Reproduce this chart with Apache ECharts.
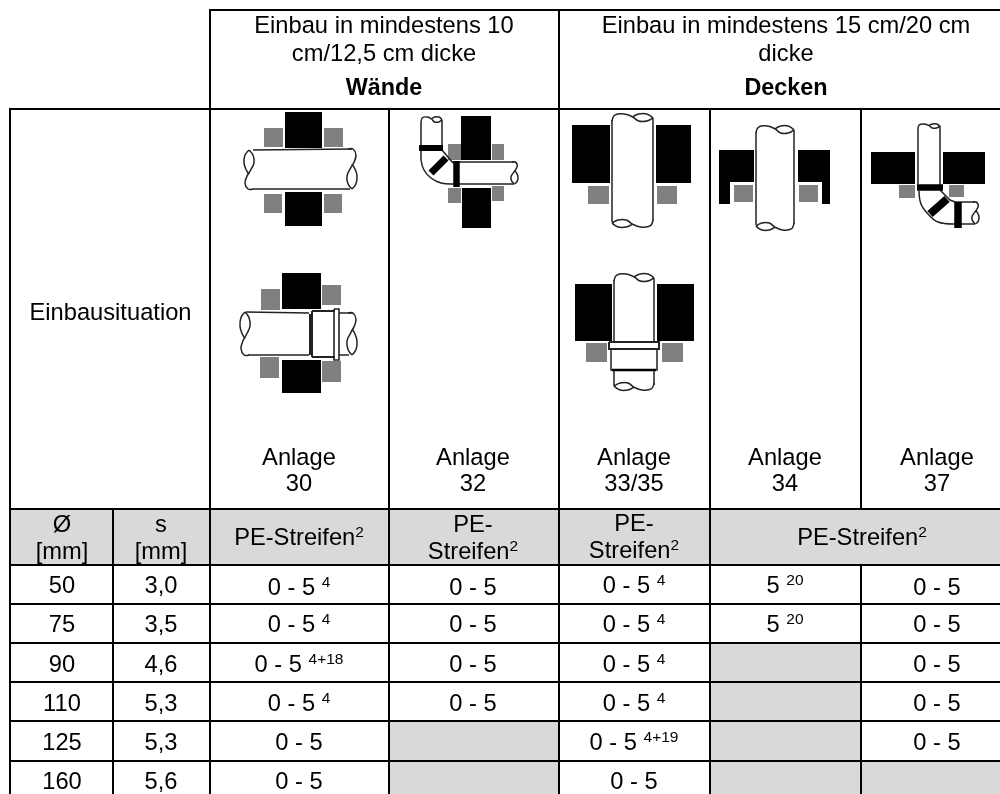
<!DOCTYPE html>
<html><head><meta charset="utf-8">
<style>html,body{margin:0;padding:0;background:#fff}#c{width:1000px;height:794px}</style>
<script src="https://cdn.jsdelivr.net/npm/echarts@6/dist/echarts.min.js"></script>
</head><body><div id="c"></div>
<script>
// ---------- table content ----------
const diameters = ['50','75','90','110','125','160'];
const walls = ['3,0','3,5','4,6','5,3','5,3','5,6'];
const anlage30 = [['0 - 5','4'],['0 - 5','4'],['0 - 5','4+18'],['0 - 5','4'],['0 - 5',''],['0 - 5','']];
const anlage32 = [['0 - 5',''],['0 - 5',''],['0 - 5',''],['0 - 5',''],null,null];
const anlage33 = [['0 - 5','4'],['0 - 5','4'],['0 - 5','4'],['0 - 5','4'],['0 - 5','4+19'],['0 - 5','']];
const anlage34 = [['5','20'],['5','20'],null,null,null,null];
const anlage37 = [['0 - 5',''],['0 - 5',''],['0 - 5',''],['0 - 5',''],['0 - 5',''],null];
const anlageLabels = ['30','32','33/35','34','37'];

// ---------- layout (axis units equal page pixels) ----------
const FONT = '"Liberation Sans", Arial, sans-serif';
const colX = [10,113,210,389,559,710,861,1000];
const rowY = [565,604,643,682,721,761,794];
const tableValueCols = [[anlage30,299],[anlage32,473],[anlage33,634],[anlage34,785],[anlage37,937]];
const valueRowY = [[587,624,664,703,742,781],[587,624,664,703,742,781],[585,624,664,703,742,781],[585,624,664,703,742,781],[587,624,664,703,742,781]];
const anlageX = [299,473,634,785,937];
const GREY = '#d9d9d9', MID = '#808080', BLACK = '#000000', PIPE = '#222222';

// [x0,y0,x1,y1,colour]
const fills = [];
tableValueCols.forEach((c,ci)=>c[0].forEach((v,ri)=>{ if(!v) fills.push([colX[ci+2],rowY[ri],colX[ci+3],rowY[ri+1],GREY]); }));
fills.push([10,509,1000,565,GREY]);
const blocks = [
 // Anlage 30 top
 [285,112,322,148,BLACK],[285,192,322,226,BLACK],[264,128,283,147,MID],[324,128,343,147,MID],[264,194,282,213,MID],[324,194,342,213,MID],
 // Anlage 30 bottom
 [282,273,321,309,BLACK],[282,360,321,393,BLACK],[261,289,280,310,MID],[322,285,341,305,MID],[260,357,279,378,MID],[322,361,341,382,MID],
 // Anlage 32
 [461,116,491,160,BLACK],[462,188,491,228,BLACK],[448,144,461,160,MID],[492,144,504,160,MID],[448,188,461,203,MID],[492,186,504,201,MID],
 // Anlage 33
 [572,125,610,183,BLACK],[656,125,691,183,BLACK],[588,186,609,204,MID],[657,186,677,204,MID],
 // Anlage 35
 [575,284,612,341,BLACK],[657,284,694,341,BLACK],[586,343,607,362,MID],[662,343,683,362,MID],
 // Anlage 34
 [719,150,754,182,BLACK],[719,182,730,204,BLACK],[798,150,830,182,BLACK],[822,182,830,204,BLACK],[734,185,753,202,MID],[799,185,818,202,MID],
 // Anlage 37
 [871,152,915,184,BLACK],[943,152,985,184,BLACK],[899,185,915,198,MID],[949,185,964,197,MID]
];

// [x1,y1,x2,y2] grid rules
const rules = [
 [210,10,1000,10],[10,109,1000,109],[10,509,1000,509],[10,565,1000,565],
 [10,604,1000,604],[10,643,1000,643],[10,682,1000,682],[10,721,1000,721],[10,761,1000,761],
 [10,108,10,794],[113,509,113,794],[210,9,210,794],[389,109,389,794],[559,9,559,794],[710,109,710,794],[861,109,861,509],[861,565,861,794]
];

// wavy pipe ends, sketched as outlines
function hLeft(x,y0,y1,l){ const h=y1-y0; l=l||10; return [
  [[x+l/2,y0],[x+l*.1,y0+.13*h],[x,y0+.33*h],[x+l*.2,y0+.5*h],[x+l/2,y0+.62*h]],
  [[x+l/2,y0],[x+l*.9,y0+.13*h],[x+l,y0+.33*h],[x+l*.6,y0+.54*h],[x+l*.3,y0+.67*h],[x+l*.1,y0+.85*h],[x+l*.4,y1],[x+l*.9,y1]]
];}
function hRight(x,y0,y1,l){ l=l||10; return hLeft(0,y0,y1,l).map(s=>s.map(p=>[x-p[0],y0+y1-p[1]])); }
function vTop(y,x0,x1,a){ const w=x1-x0; a=a||7; return [
  [[x0,y+a],[x0+.07*w,y+a*.15],[x0+.3*w,y],[x0+.5*w,y+a*.4],[x0+.65*w,y+a],[x0+.85*w,y+a],[x1,y+a*.55]],
  [[x0+.5*w,y+a*.4],[x0+.65*w,y],[x0+.85*w,y],[x1,y+a*.55]]
];}
function vBottom(y,x0,x1,a){ return vTop(0,x0,x1,a).map(s=>s.map(p=>[x0+x1-p[0],y-p[1]])); }
const W = 1.5;
const thin = pts => ({pts, w:W, color:PIPE, smooth:0.4});
const line = (pts,w) => ({pts, w:w||W, color:PIPE, smooth:0});
const band = (pts,w) => ({pts, w, color:BLACK, smooth:0});
const strokes = [
 // Anlage 30 top
 line([[253,150],[352,149]]),line([[253,189],[350,189]]),
 ...hLeft(244,150,189).map(thin),...hRight(357,149,189).map(thin),
 // Anlage 30 bottom
 line([[246,312],[309,313]]),line([[248,355],[309,355]]),
 ...hLeft(240,312,355).map(thin),
 line([[310,314],[310,355]],2),line([[312,311],[335,311]],2),line([[312,357],[335,357]],2),line([[312,311],[312,357]],2),
 line([[334,309],[339,309],[339,360],[334,360],[334,309]],1.6),
 line([[339,313],[353,313]]),line([[339,355],[349,355]]),...hRight(357,313,355).map(thin),
 // Anlage 32
 line([[421,122],[421,160]]),line([[442,120],[442,148]]),...vTop(117,421,442,5).map(thin),
 thin([[421,160],[424,170],[431,178],[441,183],[453,184]]),
 line([[442,150],[453,163]]),
 line([[453,162],[514,162]]),line([[453,184],[514,184]]),
 ...hRight(518,162,184,7).map(thin),
 band([[419,148],[443,148]],6),band([[431,173],[446,158]],7),band([[456.5,161],[456.5,187]],6.5),
 // Anlage 33
 line([[612,120],[612,222]]),line([[653,118],[653,221]]),
 ...vTop(114,612,653).map(thin),...vBottom(227,612,653).map(thin),
 // Anlage 34
 line([[756,132],[756,225]]),line([[794,130],[794,224]]),
 ...vTop(126,756,794).map(thin),...vBottom(230,756,794).map(thin),
 // Anlage 37
 line([[918,128],[918,190]]),line([[940,126],[940,186]]),...vTop(124,918,940,4).map(thin),
 thin([[919,191],[921,204],[928,214],[938,222],[955,224]]),
 line([[940,190],[950,200],[955,202]]),
 line([[955,202],[975,202]]),line([[955,224],[975,224]]),
 ...hRight(979,202,224,7).map(thin),
 band([[917,187.5],[943,187.5]],6.5),band([[930,214],[947,199]],8),band([[958,202],[958,228]],7.5),
 // Anlage 35
 line([[614,280],[614,342]]),line([[654,278],[654,342]]),...vTop(274,614,654).map(thin),
 line([[609,342],[659,342],[659,349],[609,349],[609,342]],2),
 line([[611,349],[611,370],[657,370],[657,349]],1.5),band([[612,370],[656,370]],2.5),
 line([[614,371],[614,386]]),line([[654,371],[654,385]]),...vBottom(390,614,654).map(thin)
];

// ---------- texts: [x,y,text,size,bold] ----------
const N = 23.7, B = 23.4;
const texts = [
 [384,26,'Einbau in mindestens 10',N],[384,54,'cm/12,5 cm dicke',N],[384,89,'Wände',B,true],
 [786,26,'Einbau in mindestens 15 cm/20 cm',N],[786,54,'dicke',N],[786,89,'Decken',B,true],
 [110.5,313,'Einbausituation',N],
 [62,525,'Ø',N],[62,552,'[mm]',N],[161,525,'s',N],[161,552,'[mm]',N],
 [473,525,'PE-',N],[634,524,'PE-',N]
];
anlageLabels.forEach((a,i)=>{texts.push([anlageX[i],458,'Anlage',N]);texts.push([anlageX[i],484,a,N]);});
const supTexts = [
 [299,538,'PE-Streifen','2'],[473,552,'Streifen','2'],[634,551,'Streifen','2'],[862,538,'PE-Streifen','2']
];
diameters.forEach((d,i)=>{texts.push([62,valueRowY[2][i]+1,d,N]);texts.push([161,valueRowY[2][i]+1,walls[i],N]);});
tableValueCols.forEach((c,ci)=>c[0].forEach((v,ri)=>{ if(v) supTexts.push([c[1],valueRowY[ci][ri]+1,v[0],v[1]]); }));

const chart = echarts.init(document.getElementById('c'),null,{renderer:'canvas'});
const rectColors = {fills:fills.map(r=>r[4]),blocks:blocks.map(r=>r[4])};
const rectItem = (p,api)=>{
  const a=api.coord([api.value(0),api.value(1)]), b=api.coord([api.value(2),api.value(3)]);
  return {type:'rect',shape:{x:a[0],y:a[1],width:b[0]-a[0],height:b[1]-a[1]},style:{fill:rectColors[p.seriesName][p.dataIndex]}};
};
const base = {type:'custom',silent:true,clip:false,animation:false};
chart.setOption({
  animation:false,
  backgroundColor:'#ffffff',
  grid:{left:0,right:0,top:0,bottom:0},
  xAxis:{type:'value',min:0,max:1000,show:false},
  yAxis:{type:'value',min:0,max:794,inverse:true,show:false},
  series:[
    {...base,name:'fills',data:fills.map(r=>r.slice(0,4)),renderItem:rectItem,z:1},
    {...base,name:'blocks',data:blocks.map(r=>r.slice(0,4)),renderItem:rectItem,z:2},
    {...base,name:'strokes',data:strokes.map((s,i)=>[i]),z:3,renderItem:(p,api)=>{
      const s=strokes[p.dataIndex];
      return {type:'polyline',shape:{points:s.pts.map(q=>api.coord(q)),smooth:s.smooth},style:{fill:null,stroke:s.color,lineWidth:s.w}};
    }},
    {...base,name:'rules',data:rules,z:4,renderItem:(p,api)=>{
      const a=api.coord([api.value(0),api.value(1)]), b=api.coord([api.value(2),api.value(3)]);
      return {type:'line',shape:{x1:a[0],y1:a[1],x2:b[0],y2:b[1]},style:{stroke:'#000',lineWidth:2}};
    }},
    {...base,name:'texts',data:texts.map(t=>[t[0],t[1]]),z:5,renderItem:(p,api)=>{
      const t=texts[p.dataIndex], a=api.coord([t[0],t[1]]);
      return {type:'text',x:a[0],y:a[1],style:{text:t[2],fill:'#000',font:(t[4]?'bold ':'')+t[3]+'px '+FONT,textAlign:'center',textVerticalAlign:'middle'}};
    }},
    {...base,name:'sup',data:supTexts.map(t=>[t[0],t[1]]),z:5,renderItem:(p,api)=>{
      const t=supTexts[p.dataIndex], a=api.coord([t[0],t[1]]);
      const isWord = t[2].indexOf('Streifen')>=0;
      const str = t[3] ? '{m|'+t[2]+(isWord?'':' ')+'}{s|'+t[3]+'}' : '{m|'+t[2]+'}';
      return {type:'text',x:a[0],y:a[1],style:{text:str,textAlign:'center',textVerticalAlign:'middle',fill:'#000',
        rich:{m:{font:N+'px '+FONT,fill:'#000',lineHeight:26,verticalAlign:'middle'},s:{font:'15.5px '+FONT,fill:'#000',lineHeight:16,verticalAlign:'top'}}}};
    }}
  ]
});
</script></body></html>
